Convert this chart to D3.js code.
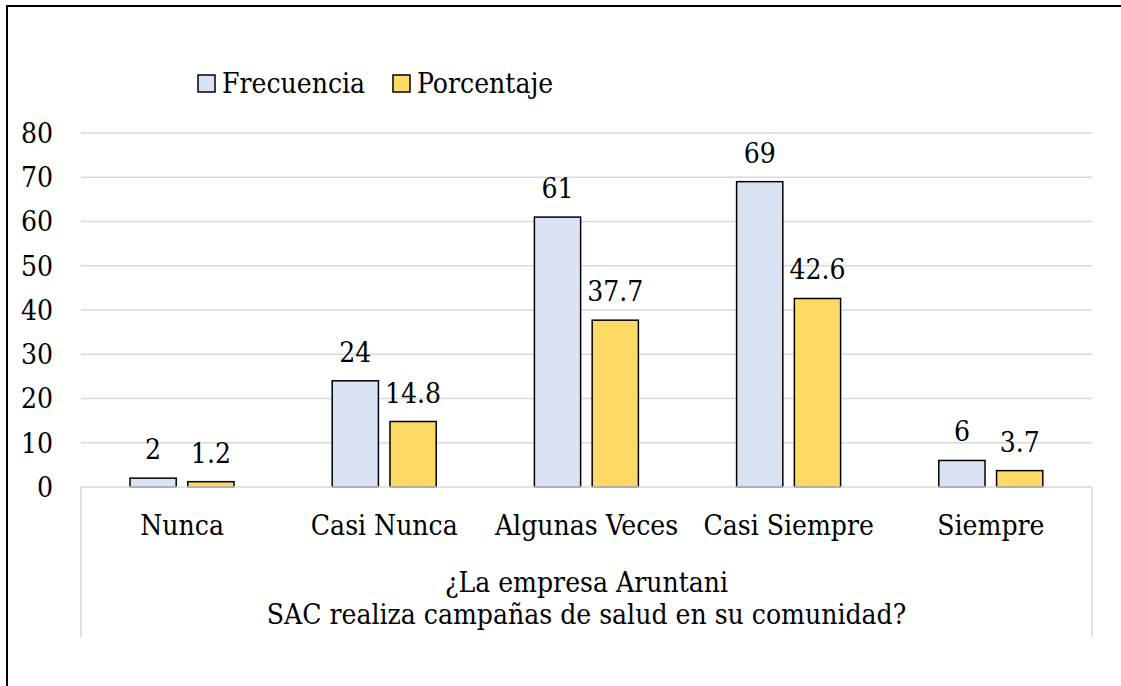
<!DOCTYPE html>
<html>
<head>
<meta charset="utf-8">
<script src="https://cdn.jsdelivr.net/npm/d3@7"></script>
<style>
  body { margin: 0; background: #fff; }
</style>
</head>
<body>
<div id="chart"></div>
<script>
// Data
const categories = ['Nunca', 'Casi Nunca', 'Algunas Veces', 'Casi Siempre', 'Siempre'];
const seriesNames = ['Frecuencia', 'Porcentaje'];
const frecuencia = [2, 24, 61, 69, 6];
const porcentaje = [1.2, 14.8, 37.7, 42.6, 3.7];
const yTicks = [0, 10, 20, 30, 40, 50, 60, 70, 80];
const groupLabel = ['¿La empresa Aruntani', 'SAC realiza campañas de salud en su comunidad?'];

// Layout
const WIDTH = 1121;
const HEIGHT = 686;
const PLOT = { left: 81, right: 1092, top: 133, bottom: 487 };
const FONT = 28;
const FAMILY = "'DejaVu Serif Condensed', 'DejaVu Serif', serif";
const colors = { Frecuencia: '#dae3f3', Porcentaje: '#ffd966' };

const svg = d3.select('#chart').append('svg')
    .attr('width', WIDTH)
    .attr('height', HEIGHT)
    .style('font-family', FAMILY);

// Outer frame (only top and left visible)
svg.append('path')
    .attr('d', `M7,${HEIGHT} L7,6 L${WIDTH},6`)
    .attr('fill', 'none')
    .attr('stroke', '#000')
    .attr('stroke-width', 2);

const y = d3.scaleLinear()
    .domain([0, 80])
    .range([PLOT.bottom, PLOT.top]);

const x0 = d3.scaleBand()
    .domain(categories)
    .range([PLOT.left, PLOT.right]);

const x1 = d3.scaleBand()
    .domain(seriesNames)
    .range([49, 153])
    .paddingInner(0.2);

// Gridlines
svg.append('g')
    .selectAll('line')
    .data(yTicks.filter(d => d > 0))
    .enter().append('line')
    .attr('x1', PLOT.left)
    .attr('x2', PLOT.right)
    .attr('y1', d => y(d))
    .attr('y2', d => y(d))
    .attr('stroke', '#d9d9d9')
    .attr('stroke-width', 1.5);

// Y tick labels
svg.append('g')
    .selectAll('text')
    .data(yTicks)
    .enter().append('text')
    .attr('x', 53)
    .attr('y', d => y(d))
    .attr('dy', '0.35em')
    .attr('text-anchor', 'end')
    .style('font-size', FONT + 'px')
    .text(d => d);

// Bars
const rows = categories.map((c, i) => ({
    category: c,
    values: [
        { key: 'Frecuencia', value: frecuencia[i] },
        { key: 'Porcentaje', value: porcentaje[i] }
    ]
}));

const groups = svg.append('g')
    .selectAll('g')
    .data(rows)
    .enter().append('g')
    .attr('transform', d => `translate(${x0(d.category)},0)`);

groups.selectAll('rect')
    .data(d => d.values)
    .enter().append('rect')
    .attr('x', d => x1(d.key))
    .attr('y', d => y(d.value))
    .attr('width', x1.bandwidth())
    .attr('height', d => y(0) - y(d.value))
    .attr('fill', d => colors[d.key])
    .attr('stroke', '#000')
    .attr('stroke-width', 1.5);

groups.selectAll('text')
    .data(d => d.values)
    .enter().append('text')
    .attr('x', d => x1(d.key) + x1.bandwidth() / 2)
    .attr('y', d => y(d.value) - 19)
    .attr('text-anchor', 'middle')
    .style('font-size', FONT + 'px')
    .text(d => d.value);

// Category axis (multi-level)
const axis = svg.append('g');
axis.append('line')
    .attr('x1', PLOT.left).attr('x2', PLOT.right)
    .attr('y1', y(0)).attr('y2', y(0))
    .attr('stroke', '#d9d9d9')
    .attr('stroke-width', 1.5);

[PLOT.left, PLOT.right].forEach(xv => {
    axis.append('line')
        .attr('x1', xv).attr('x2', xv)
        .attr('y1', y(0)).attr('y2', 637)
        .attr('stroke', '#d9d9d9')
        .attr('stroke-width', 1.5);
});

axis.selectAll('text.cat')
    .data(categories)
    .enter().append('text')
    .attr('class', 'cat')
    .attr('x', d => x0(d) + x0.bandwidth() / 2)
    .attr('y', 535)
    .attr('text-anchor', 'middle')
    .style('font-size', FONT + 'px')
    .text(d => d);

axis.selectAll('text.group')
    .data(groupLabel)
    .enter().append('text')
    .attr('class', 'group')
    .attr('x', (PLOT.left + PLOT.right) / 2)
    .attr('y', (d, i) => 592 + i * 32)
    .attr('text-anchor', 'middle')
    .style('font-size', FONT + 'px')
    .text(d => d);

// Legend
const legendX = [198, 393];
const legend = svg.append('g')
    .selectAll('g')
    .data(seriesNames)
    .enter().append('g')
    .attr('transform', (d, i) => `translate(${legendX[i]},75)`);

legend.append('rect')
    .attr('width', 17)
    .attr('height', 17)
    .attr('fill', d => colors[d])
    .attr('stroke', '#000')
    .attr('stroke-width', 1.5);

legend.append('text')
    .attr('x', 24)
    .attr('y', 18)
    .style('font-size', FONT + 'px')
    .text(d => d);
</script>
</body>
</html>
